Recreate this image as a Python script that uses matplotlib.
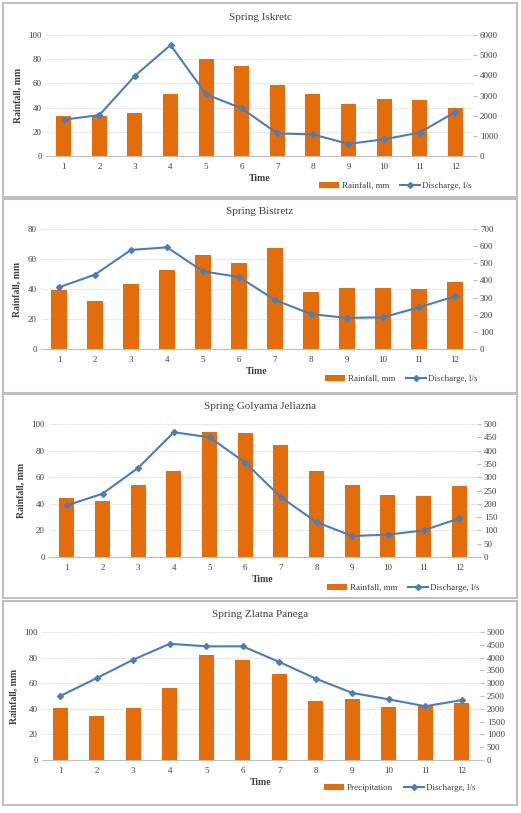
import matplotlib
matplotlib.use("Agg")
import matplotlib.pyplot as plt
from matplotlib.patches import Rectangle
import numpy as np

plt.rcParams['font.family'] = ['Liberation Serif', 'DejaVu Serif']

W, H = 521, 813

months = np.arange(1, 13)

# Spring Iskretc
iskretc_rain = [33, 33, 35.3, 51.2, 80, 74.4, 59, 51.2, 43, 46.8, 46.3, 40]
iskretc_q = [1800, 2030, 3980, 5500, 3060, 2360, 1120, 1070, 600, 830, 1160, 2180]

# Spring Bistretz
bistretz_rain = [39.6, 31.8, 43.3, 52.4, 62.7, 57.1, 67.1, 38.2, 40.7, 40.9, 39.8, 44.9]
bistretz_q = [360, 434, 578, 593, 453, 420, 286, 204, 181, 185, 243, 307]

# Spring Golyama Jeliazna
golyama_rain = [44.5, 42, 54, 64.8, 93.8, 93, 84, 64.5, 53.8, 46.5, 46, 53.3]
golyama_q = [194, 238, 335, 469, 450, 355, 225, 131, 79, 84, 100, 145]

# Spring Zlatna Panega
zlatna_rain = [40.9, 34.1, 40.9, 56, 82, 78.4, 66.9, 46.4, 47.7, 41.7, 42.4, 44.5]
zlatna_q = [2500, 3200, 3920, 4540, 4440, 4440, 3830, 3180, 2620, 2370, 2100, 2340]

BAR = '#E46C0A'
LINE = '#4A7EBB'
GRID = '#D9D9D9'
TXT = '#404040'


def px_rect(x0, y0, x1, y1):
    # pixel box (from top-left) -> figure fraction [l, b, w, h]
    return [x0 / W, 1 - y1 / H, (x1 - x0) / W, (y1 - y0) / H]


def panel(fig, box, plot, title, rain, q, rmax, qmax, qstep, bar_label, leg_y, leg_x):
    # frame around the panel
    l, b, w, h = px_rect(*box)
    fig.patches.append(Rectangle((l, b), w, h, transform=fig.transFigure,
                                 fill=False, edgecolor='#BFBFBF', lw=1.5))
    fig.text((box[0] + box[2]) / 2 / W, 1 - (plot[1] - 18) / H, title,
             ha='center', va='center', fontsize=8, color=TXT)

    ax = fig.add_axes(px_rect(*plot))
    ax.bar(months, rain, width=0.42, color=BAR, label=bar_label, zorder=2)
    ax.set_xlim(0.5, 12.5)
    ax.set_ylim(0, rmax)
    ax.set_yticks(np.arange(0, rmax + 1, 20))
    ax.set_xticks(months)
    ax.yaxis.grid(True, color=GRID, lw=0.6, ls=(0, (2, 1)))
    ax.set_axisbelow(True)
    for s in ['top', 'left', 'right']:
        ax.spines[s].set_visible(False)
    ax.spines['bottom'].set_color('#BFBFBF')
    ax.tick_params(axis='both', labelsize=6.5, colors=TXT, length=0, pad=3)
    ax.tick_params(axis='x', pad=5)
    ax.set_ylabel('Rainfall, mm', fontsize=7, fontweight='bold', color=TXT, labelpad=4)
    ax.set_xlabel('Time', fontsize=7, fontweight='bold', color=TXT, labelpad=2)

    ax2 = ax.twinx()
    ax2.plot(months, q, color=LINE, lw=1.5, marker='D', ms=3, label='Discharge, l/s', zorder=3)
    ax2.set_ylim(0, qmax)
    ax2.set_yticks(np.arange(0, qmax + 1, qstep))
    for s in ['top', 'left', 'right', 'bottom']:
        ax2.spines[s].set_visible(False)
    ax2.tick_params(axis='y', labelsize=6.5, colors=TXT, length=3, pad=2)
    ax2.tick_params(axis='y', color='#BFBFBF')

    handles = ax.get_legend_handles_labels()[0] + ax2.get_legend_handles_labels()[0]
    labels = [bar_label, 'Discharge, l/s']
    fig.legend(handles, labels, loc='center right', bbox_to_anchor=(leg_x / W, 1 - leg_y / H),
               ncol=2, frameon=False, fontsize=6.5, handlelength=2.2, handleheight=0.6,
               columnspacing=1.2, handletextpad=0.3, labelcolor=TXT)


fig = plt.figure(figsize=(W / 100, H / 100), dpi=100)
fig.patch.set_facecolor('white')

panel(fig, (3, 3, 517, 197), (46, 35, 473, 156), 'Spring Iskretc',
      iskretc_rain, iskretc_q, 100, 6000, 1000, 'Rainfall, mm', 186, 480)
panel(fig, (3, 199, 517, 393), (41, 229, 473, 349), 'Spring Bistretz',
      bistretz_rain, bistretz_q, 80, 700, 100, 'Rainfall, mm', 379, 486)
panel(fig, (3, 394, 517, 598), (49, 424, 477, 557), 'Spring Golyama Jeliazna',
      golyama_rain, golyama_q, 100, 500, 50, 'Rainfall, mm', 588, 488)
panel(fig, (3, 601, 517, 805), (42, 632, 480, 760), 'Spring Zlatna Panega',
      zlatna_rain, zlatna_q, 100, 5000, 500, 'Precipitation', 788, 484)

fig.savefig('out.png', dpi=100)
